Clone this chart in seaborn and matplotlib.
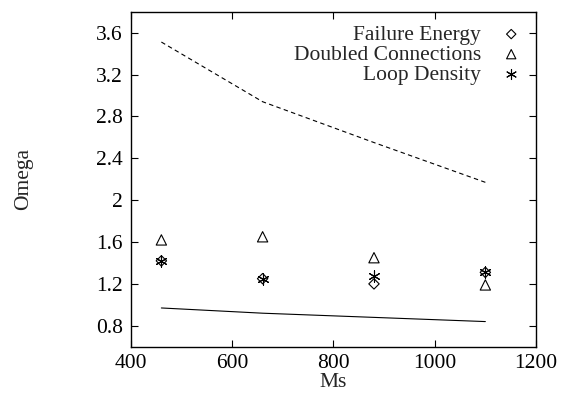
import matplotlib
matplotlib.use("Agg")
import matplotlib.pyplot as plt
import seaborn as sns

ms = [460, 660, 880, 1100]
failure_energy = [1.42, 1.25, 1.20, 1.31]
doubled_connections = [1.62, 1.65, 1.45, 1.19]
loop_density = [1.42, 1.25, 1.28, 1.31]
upper_curve = [3.51, 2.94, 2.55, 2.17]
lower_curve = [0.97, 0.92, 0.88, 0.84]

x_ticks = [400, 600, 800, 1000, 1200]
y_ticks = [0.8, 1.2, 1.6, 2.0, 2.4, 2.8, 3.2, 3.6]
y_tick_labels = ["0.8", "1.2", "1.6", "2", "2.4", "2.8", "3.2", "3.6"]

sns.set_style("ticks")
plt.rcParams["font.family"] = ["Liberation Serif", "DejaVu Serif"]
plt.rcParams["font.size"] = 15.5

fig = plt.figure(figsize=(5.61, 4.03), dpi=100)
ax = fig.add_axes([0.2335, 0.1397, 0.9554 - 0.2335, 0.971 - 0.1397])

sns.lineplot(x=ms, y=upper_curve, ax=ax, color="black", linewidth=0.8,
             linestyle=(0, (4, 3)), legend=False)
sns.lineplot(x=ms, y=lower_curve, ax=ax, color="black", linewidth=0.8,
             legend=False)

sns.scatterplot(x=ms, y=failure_energy, ax=ax, marker="D", s=28,
                facecolor="none", edgecolor="black", linewidth=0.8,
                label="Failure Energy")
sns.scatterplot(x=ms, y=doubled_connections, ax=ax, marker="^", s=55,
                facecolor="none", edgecolor="black", linewidth=0.8,
                label="Doubled Connections")
sns.scatterplot(x=ms, y=loop_density, ax=ax, marker=(6, 2, 0), s=65,
                color="black", linewidth=0.8, label="Loop Density")

ax.set_xlim(400, 1200)
ax.set_ylim(0.6, 3.8)
ax.set_xticks(x_ticks)
ax.set_yticks(y_ticks)
ax.set_yticklabels(y_tick_labels)
ax.tick_params(direction="in", length=5, width=0.8, top=True, right=True,
               labelsize=15.5, colors="black")
ax.tick_params(axis="y", pad=6)
ax.tick_params(axis="x", pad=5)
for sp in ax.spines.values():
    sp.set_visible(True)
    sp.set_linewidth(1.0)
    sp.set_color("black")

ax.set_xlabel("Ms", fontsize=15.5, labelpad=0)
ax.set_ylabel("Omega", fontsize=15.5, labelpad=45)

leg = ax.legend(loc="upper right", frameon=False, markerfirst=False,
                fontsize=15.5, handletextpad=0.9, labelspacing=0.0,
                borderaxespad=0.25, handlelength=1.0, markerscale=0.9,
                bbox_to_anchor=(1.0, 1.003))
for t in leg.get_texts():
    t.set_ha("right")
leg._legend_box.align = "right"

fig.savefig("out.png", dpi=100)
